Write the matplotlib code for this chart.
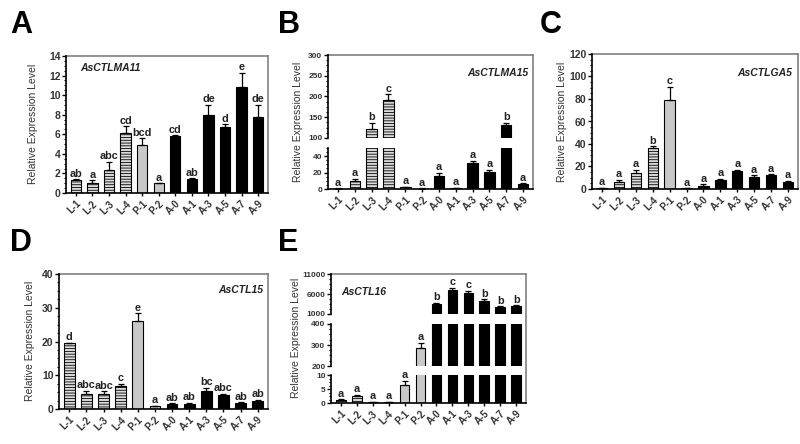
import matplotlib.pyplot as plt
import numpy as np
from matplotlib.ticker import AutoMinorLocator, FixedLocator

plt.rcParams['font.family'] = ['Liberation Sans', 'DejaVu Sans']
plt.rcParams['hatch.linewidth'] = 0.6

SAMPLES = ["L-1", "L-2", "L-3", "L-4", "P-1", "P-2",
           "A-0", "A-1", "A-3", "A-5", "A-7", "A-9"]
KIND = ["L", "L", "L", "L", "P", "P", "A", "A", "A", "A", "A", "A"]

# panel A  AsCTLMA11
A_MEAN = [1.35, 1.0, 2.4, 6.1, 4.9, 1.0, 5.8, 1.45, 8.0, 6.7, 10.8, 7.8]
A_ERR = [0.05, 0.3, 0.8, 0.7, 0.7, 0.0, 0.1, 0.05, 1.0, 0.3, 1.5, 1.2]
A_SIG = ["ab", "a", "abc", "cd", "bcd", "a", "cd", "ab", "de", "d", "e", "de"]

# panel B  AsCTLMA15
B_MEAN = [0.5, 10, 122, 192, 2, 0.5, 16, 1, 32, 21, 132, 6]
B_ERR = [0.3, 2, 15, 13, 1, 0.2, 4, 0.3, 2, 2, 5, 1]
B_SIG = ["a", "a", "b", "c", "a", "a", "a", "a", "a", "a", "b", "a"]

# panel C  AsCTLGA5
C_MEAN = [0.5, 6, 14, 36, 79, 0.5, 3, 8, 16, 11, 12, 6]
C_ERR = [0.3, 2, 3, 2, 12, 0.2, 1, 1, 1, 1, 1, 1]
C_SIG = ["a", "a", "a", "b", "c", "a", "a", "a", "a", "a", "a", "a"]

# panel D  AsCTL15
D_MEAN = [19.5, 4.3, 4.4, 6.7, 26.0, 0.8, 1.5, 1.6, 5.3, 4.2, 1.8, 2.5]
D_ERR = [0.1, 1.0, 0.8, 0.8, 2.3, 0.2, 0.2, 0.2, 1.0, 0.2, 0.2, 0.2]
D_SIG = ["d", "abc", "abc", "c", "e", "a", "ab", "ab", "bc", "abc", "ab", "ab"]

# panel E  AsCTL16
E_MEAN = [1.0, 2.5, 0.3, 0.3, 6.5, 285, 3500, 7000, 6300, 4300, 2700, 3000]
E_ERR = [0.3, 0.5, 0.1, 0.1, 1.5, 25, 300, 600, 500, 400, 200, 200]
E_SIG = ["a", "a", "a", "a", "a", "a", "b", "c", "c", "b", "b", "b"]

W, H = 800, 444
fig = plt.figure(figsize=(8, 4.44), dpi=100)


def box(l, t, r, b):
    return [l / W, 1 - b / H, (r - l) / W, (b - t) / H]


def bar_style(kind):
    if kind == "L":
        return dict(facecolor="#dcdcdc", edgecolor="black", hatch="------")
    if kind == "P":
        return dict(facecolor="#c8c8c8", edgecolor="black")
    return dict(facecolor="black", edgecolor="black")


def panel(l, r, segs, mean, err, sig, tsize=7.5):
    # segs: list of (lo, hi, top_px, bottom_px, ticks), top to bottom
    top = segs[0][2]
    bottom = segs[-1][3]
    frame = fig.add_axes(box(l, top, r, bottom), zorder=0)
    frame.set_xticks([])
    frame.set_yticks([])
    frame.spines['left'].set_visible(False)
    frame.spines['bottom'].set_visible(False)
    for s in ['top', 'right']:
        frame.spines[s].set_color("#808080")
        frame.spines[s].set_linewidth(1.2)
    x = np.arange(len(mean))
    for k, (lo, hi, tp, bp, ticks) in enumerate(segs):
        ax = fig.add_axes(box(l, tp, r, bp), zorder=1)
        ax.patch.set_alpha(0)
        for i in range(len(mean)):
            ax.bar(x[i], mean[i], width=0.62, linewidth=0.8, **bar_style(KIND[i]))
            ax.errorbar(x[i], mean[i], yerr=[[0], [err[i]]], fmt='none',
                        ecolor='black', elinewidth=0.9, capsize=2.5, capthick=0.9)
            t = mean[i] + err[i]
            if lo <= mean[i] <= hi:
                ax.annotate(sig[i], (x[i], t), xytext=(0, 0.5),
                            textcoords='offset points', ha='center', va='bottom',
                            fontsize=7.8, fontweight='bold', color="#222222")
        ax.set_xlim(-0.6, 11.6)
        ax.set_ylim(lo, hi)
        ax.spines['top'].set_visible(False)
        ax.spines['right'].set_visible(False)
        ax.spines['left'].set_linewidth(1.2)
        ax.yaxis.set_major_locator(FixedLocator(ticks))
        ax.yaxis.set_minor_locator(AutoMinorLocator(4))
        ax.tick_params(axis='y', labelsize=tsize, length=3, width=1, pad=1)
        ax.tick_params(axis='y', which='minor', length=1.5, width=0.8)
        for lab in ax.get_yticklabels():
            lab.set_fontweight('bold')
            lab.set_color("#333333")
        if k == len(segs) - 1:
            ax.spines['bottom'].set_linewidth(1.2)
            ax.set_xticks(x)
            ax.set_xticklabels(SAMPLES, rotation=45, ha='right',
                               rotation_mode='anchor', fontsize=7,
                               fontweight='bold', color="#333333")
            ax.tick_params(axis='x', length=2.5, width=1, pad=1.5)
        else:
            ax.spines['bottom'].set_visible(False)
            ax.set_xticks([])
    return frame


def ylabel(xp, yp):
    fig.text(xp / W, 1 - yp / H, "Relative Expression Level", rotation=90,
             ha='center', va='center', fontsize=7.5, color="#333333")


def tag(xp, yp, s):
    fig.text(xp / W, 1 - yp / H, s, fontsize=22, fontweight='bold',
             ha='left', va='top')


def gene(xp, yp, s, ha):
    fig.text(xp / W, 1 - yp / H, s, fontsize=7.5, fontweight='bold',
             fontstyle='italic', ha=ha, va='center', color="#222222")


# A
panel(66, 268, [(0, 14, 56, 193, [0, 2, 4, 6, 8, 10, 12, 14])], A_MEAN, A_ERR, A_SIG)
ylabel(33, 124)
tag(10, 10, "A")
gene(80, 68, "AsCTLMA11", 'left')

# B
panel(328, 533, [(100, 300, 55, 138, [100, 150, 200, 250, 300]),
                 (0, 50, 148, 189, [0, 20, 40])], B_MEAN, B_ERR, B_SIG, tsize=6)
ylabel(298, 122)
tag(278, 10, "B")
gene(528, 73, "AsCTLMA15", 'right')

# C
panel(592, 798, [(0, 120, 54, 189, [0, 20, 40, 60, 80, 100, 120])], C_MEAN, C_ERR, C_SIG)
ylabel(562, 122)
tag(540, 10, "C")
gene(792, 73, "AsCTLGA5", 'right')

# D
panel(59, 268, [(0, 40, 274, 409, [0, 10, 20, 30, 40])], D_MEAN, D_ERR, D_SIG)
ylabel(30, 341)
tag(10, 228, "D")
gene(263, 290, "AsCTL15", 'right')

# E
panel(331, 526, [(1000, 11000, 274, 314, [1000, 6000, 11000]),
                 (200, 400, 324, 366, [200, 300, 400]),
                 (0, 10, 375, 403, [0, 5, 10])], E_MEAN, E_ERR, E_SIG, tsize=6)
ylabel(296, 338)
tag(278, 228, "E")
gene(341, 292, "AsCTL16", 'left')

fig.savefig("out.png", dpi=100)
